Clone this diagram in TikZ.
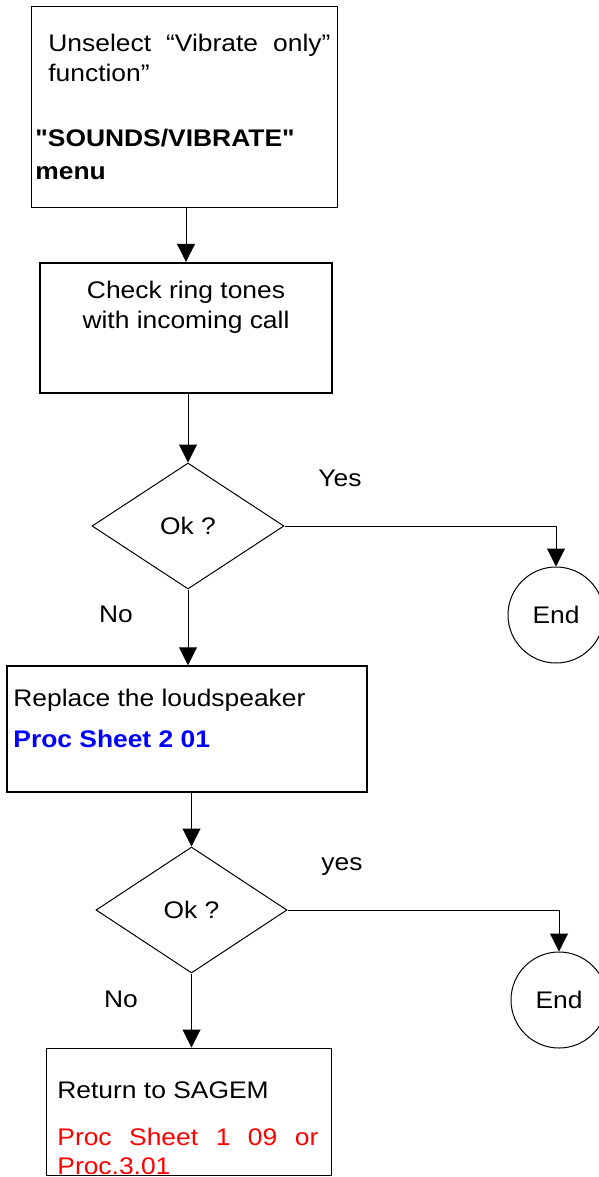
\documentclass[tikz,border=0pt]{standalone}
\usepackage{fontspec}
\setmainfont{Liberation Sans}[FakeStretch=1.1]
% same face without the TeX ligature mapping, so that " stays straight
\newfontfamily\plainsans{Liberation Sans}[FakeStretch=1.1, Ligatures=ResetAll]
\usetikzlibrary{shapes.geometric,arrows.meta}
\definecolor{procblue}{RGB}{0,0,255}
\definecolor{procred}{RGB}{255,0,0}
\begin{document}
\begin{tikzpicture}[x=0.5pt,y=-0.5pt,
  font=\fontsize{12}{15}\selectfont,
  every node/.style={inner sep=0pt},
  box/.style={draw, rectangle, line width=#1},
  box/.default=0.5pt,
  decision/.style={draw, diamond, line width=0.5pt, minimum width=96pt, minimum height=63pt},
  endpoint/.style={draw, circle, line width=0.5pt, minimum size=48pt},
  arr/.style={line width=0.5pt, -{Triangle[length=9pt,width=9pt]}},
  txt/.style={anchor=base west},
  lbl/.style={anchor=base}]

\useasboundingbox (0,0) rectangle (599,1177);

% step 1: vibrate setting
\node[box=0.5pt, minimum width=153pt, minimum height=100pt] (b1) at (184,107) {};
\node[txt] (t1a) at (48,52) {\makebox[141pt][s]{Unselect “Vibrate only”}};
\node[txt] (t1b) at (48,82) {function”};
\node[txt, font=\fontsize{12}{15}\plainsans\bfseries] (t1c) at (35,147) {"SOUNDS/VIBRATE"};
\node[txt, font=\fontsize{12}{15}\selectfont\bfseries] (t1d) at (35,179) {menu};

% step 2: ring tone check
\node[box=1.2pt, minimum width=146pt, minimum height=65pt] (b2) at (186,328) {};
\node[lbl] (t2a) at (186,298) {Check ring tones};
\node[lbl] (t2b) at (186,328) {with incoming call};

% first decision
\node[decision] (d1) at (188,526) {Ok ?};
\node[endpoint] (e1) at (556,615) {End};
\node[lbl] (y1) at (340,486) {Yes};
\node[lbl] (n1) at (116,622) {No};

% step 3: loudspeaker
\node[box=0.75pt, minimum width=180pt, minimum height=63pt] (b3) at (187,729) {};
\node[txt] (t3a) at (13,706) {Replace the loudspeaker};
\node[txt, text=procblue, font=\fontsize{12}{15}\selectfont\bfseries] (t3b) at (13,747) {Proc Sheet 2 01};

% second decision
\node[decision, minimum width=95.5pt] (d2) at (191.5,910) {Ok ?};
\node[endpoint] (e2) at (559,1000) {End};
\node[lbl] (y2) at (342,870) {yes};
\node[lbl] (n2) at (121,1007) {No};

% step 4: return
\node[box=0.5pt, minimum width=142.5pt, minimum height=63.5pt] (b4) at (188.5,1111.5) {};
\node[txt] (t4a) at (57,1098) {Return to SAGEM};
\begin{scope}
  \clip ([yshift=1.2pt]b4.south west) rectangle (b4.north east);
  \node[txt, text=procred] (t4b) at (57,1145) {\makebox[130.5pt][s]{Proc Sheet 1 09 or}};
  \node[txt, text=procred] (t4c) at (57,1174.5) {Proc.3.01};
\end{scope}

% connectors
\draw[arr] (b2.north |- b1.south) -- (b2.north);
\draw[arr] (d1.north |- b2.south) -- (d1.north);
\draw[arr] (d1.east) -| (e1.north);
\draw[arr] (d1.south) -- (d1.south |- b3.north);
\draw[arr] (d2.north |- b3.south) -- (d2.north);
\draw[arr] (d2.east) -| (e2.north);
\draw[arr] (d2.south) -- (d2.south |- b4.north);
\end{tikzpicture}
\end{document}
